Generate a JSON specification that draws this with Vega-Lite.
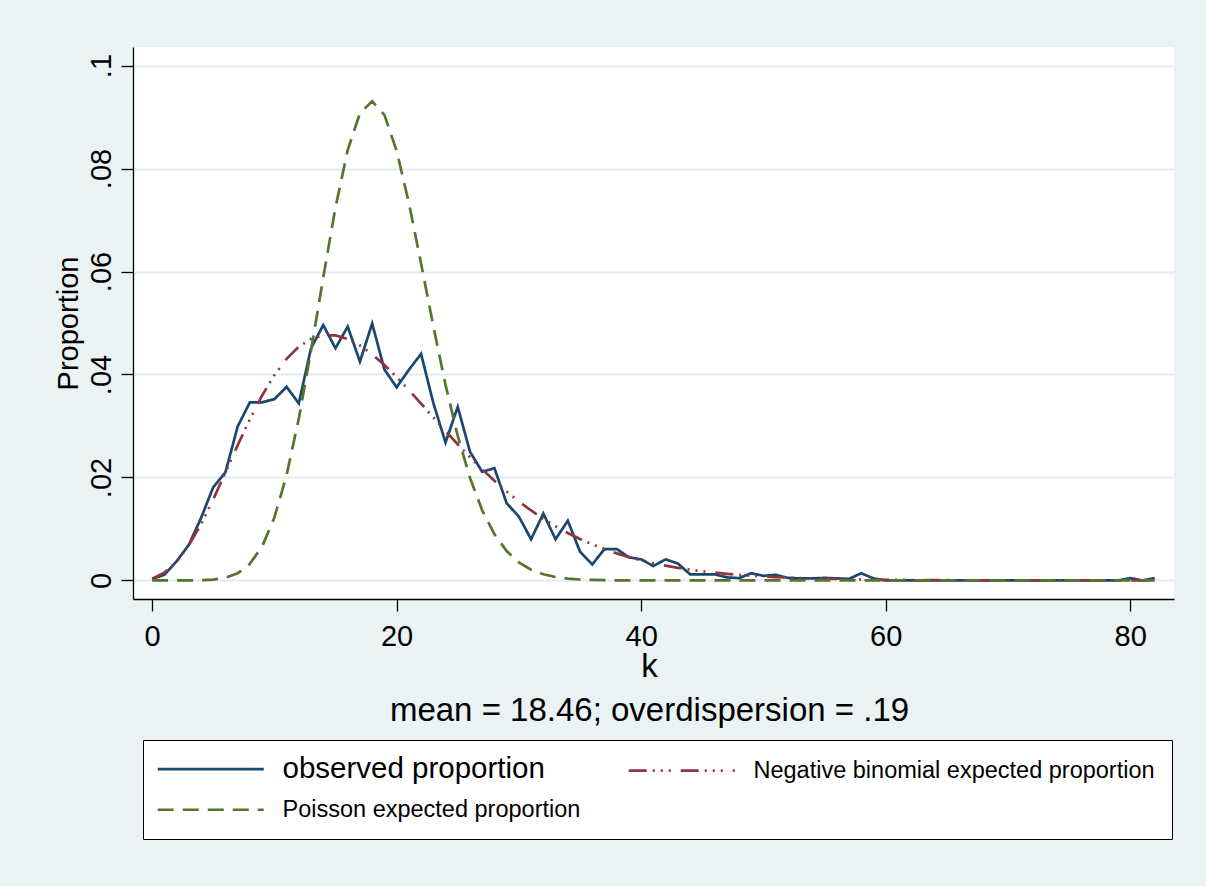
{
  "$schema": "https://vega.github.io/schema/vega-lite/v6.json",
  "width": 1041,
  "height": 552,
  "autosize": {"type": "none"},
  "padding": {"left": 133, "top": 47, "right": 32, "bottom": 287},
  "background": "#EAF2F3",
  "config": {
    "font": "Liberation Sans",
    "view": {"fill": "white", "stroke": null},
    "axis": {
      "domainColor": "black", "tickColor": "black", "labelColor": "black", "titleColor": "black",
      "titleFontWeight": "normal", "domainWidth": 1.3, "tickWidth": 1.3, "tickSize": 12,
      "labelFont": "Liberation Sans", "titleFont": "Liberation Sans"
    }
  },
  "data": {"values": [
    {"k":0,"obs":0.0003,"nb":0.00036,"pois":0},
    {"k":1,"obs":0.0011,"nb":0.00148,"pois":0},
    {"k":2,"obs":0.0037,"nb":0.00361,"pois":0.000002},
    {"k":3,"obs":0.0069,"nb":0.0068,"pois":0.00001},
    {"k":4,"obs":0.0121,"nb":0.01093,"pois":0.000047},
    {"k":5,"obs":0.0181,"nb":0.01576,"pois":0.00017},
    {"k":6,"obs":0.021,"nb":0.02097,"pois":0.00053},
    {"k":7,"obs":0.0299,"nb":0.02626,"pois":0.00139},
    {"k":8,"obs":0.0346,"nb":0.03132,"pois":0.00322},
    {"k":9,"obs":0.0346,"nb":0.03592,"pois":0.0066},
    {"k":10,"obs":0.0352,"nb":0.03987,"pois":0.01218},
    {"k":11,"obs":0.0376,"nb":0.04304,"pois":0.02043},
    {"k":12,"obs":0.0344,"nb":0.04539,"pois":0.03143},
    {"k":13,"obs":0.0451,"nb":0.04691,"pois":0.04463},
    {"k":14,"obs":0.0496,"nb":0.04761,"pois":0.05885},
    {"k":15,"obs":0.0451,"nb":0.04758,"pois":0.07243},
    {"k":16,"obs":0.0493,"nb":0.04689,"pois":0.08356},
    {"k":17,"obs":0.0425,"nb":0.04564,"pois":0.09074},
    {"k":18,"obs":0.0499,"nb":0.04392,"pois":0.09306},
    {"k":19,"obs":0.041,"nb":0.04185,"pois":0.09042},
    {"k":20,"obs":0.0375,"nb":0.0395,"pois":0.08345},
    {"k":21,"obs":0.0409,"nb":0.03698,"pois":0.07336},
    {"k":22,"obs":0.044,"nb":0.03435,"pois":0.06156},
    {"k":23,"obs":0.0345,"nb":0.03168,"pois":0.04941},
    {"k":24,"obs":0.0268,"nb":0.02903,"pois":0.038},
    {"k":25,"obs":0.0337,"nb":0.02645,"pois":0.02806},
    {"k":26,"obs":0.025,"nb":0.02395,"pois":0.01992},
    {"k":27,"obs":0.0211,"nb":0.02158,"pois":0.01362},
    {"k":28,"obs":0.0218,"nb":0.01935,"pois":0.00898},
    {"k":29,"obs":0.015,"nb":0.01727,"pois":0.00572},
    {"k":30,"obs":0.0124,"nb":0.01535,"pois":0.00352},
    {"k":31,"obs":0.008,"nb":0.01359,"pois":0.00209},
    {"k":32,"obs":0.013,"nb":0.01198,"pois":0.00121},
    {"k":33,"obs":0.008,"nb":0.01053,"pois":0.00068},
    {"k":34,"obs":0.0116,"nb":0.00922,"pois":0.00037},
    {"k":35,"obs":0.0056,"nb":0.00805,"pois":0.00019},
    {"k":36,"obs":0.0031,"nb":0.007,"pois":0.0001},
    {"k":37,"obs":0.0061,"nb":0.00608,"pois":0.00005},
    {"k":38,"obs":0.0061,"nb":0.00526,"pois":0.00002},
    {"k":39,"obs":0.0045,"nb":0.00454,"pois":0.00001},
    {"k":40,"obs":0.0041,"nb":0.00391,"pois":0.00001},
    {"k":41,"obs":0.0028,"nb":0.00336,"pois":0},
    {"k":42,"obs":0.0041,"nb":0.00288,"pois":0},
    {"k":43,"obs":0.0033,"nb":0.00246,"pois":0},
    {"k":44,"obs":0.0012,"nb":0.0021,"pois":0},
    {"k":45,"obs":0.0012,"nb":0.00179,"pois":0},
    {"k":46,"obs":0.0012,"nb":0.00152,"pois":0},
    {"k":47,"obs":0.0006,"nb":0.00129,"pois":0},
    {"k":48,"obs":0.00045,"nb":0.00109,"pois":0},
    {"k":49,"obs":0.0014,"nb":0.00093,"pois":0},
    {"k":50,"obs":0.0009,"nb":0.00078,"pois":0},
    {"k":51,"obs":0.0011,"nb":0.00066,"pois":0},
    {"k":52,"obs":0.0005,"nb":0.00056,"pois":0},
    {"k":53,"obs":0.0004,"nb":0.00047,"pois":0},
    {"k":54,"obs":0.0004,"nb":0.00039,"pois":0},
    {"k":55,"obs":0.0005,"nb":0.00033,"pois":0},
    {"k":56,"obs":0.0004,"nb":0.00028,"pois":0},
    {"k":57,"obs":0.0003,"nb":0.00023,"pois":0},
    {"k":58,"obs":0.0014,"nb":0.00019,"pois":0},
    {"k":59,"obs":0.0004,"nb":0.00016,"pois":0},
    {"k":60,"obs":0,"nb":0.00013,"pois":0},
    {"k":61,"obs":0,"nb":0.00011,"pois":0},
    {"k":62,"obs":0,"nb":0.00009,"pois":0},
    {"k":63,"obs":0,"nb":0.00008,"pois":0},
    {"k":64,"obs":0,"nb":0.00006,"pois":0},
    {"k":65,"obs":0,"nb":0.00005,"pois":0},
    {"k":66,"obs":0,"nb":0.00004,"pois":0},
    {"k":67,"obs":0,"nb":0.00004,"pois":0},
    {"k":68,"obs":0,"nb":0.00003,"pois":0},
    {"k":69,"obs":0,"nb":0.00002,"pois":0},
    {"k":70,"obs":0,"nb":0.00002,"pois":0},
    {"k":71,"obs":0,"nb":0.00002,"pois":0},
    {"k":72,"obs":0,"nb":0.00001,"pois":0},
    {"k":73,"obs":0,"nb":0.00001,"pois":0},
    {"k":74,"obs":0,"nb":0.00001,"pois":0},
    {"k":75,"obs":0,"nb":0.00001,"pois":0},
    {"k":76,"obs":0,"nb":0.00001,"pois":0},
    {"k":77,"obs":0,"nb":0.00001,"pois":0},
    {"k":78,"obs":0,"nb":0,"pois":0},
    {"k":79,"obs":0,"nb":0,"pois":0},
    {"k":80,"obs":0.00045,"nb":0,"pois":0},
    {"k":81,"obs":0,"nb":0,"pois":0},
    {"k":82,"obs":0.00045,"nb":0,"pois":0}
  ]},
  "transform": [{"fold": ["obs", "nb", "pois"], "as": ["s", "p"]}],
  "mark": {"type": "line", "strokeWidth": 2.7, "strokeCap": "butt"},
  "encoding": {
    "x": {
      "field": "k", "type": "quantitative",
      "scale": {"domain": [-1.56, 83.58], "nice": false, "zero": false},
      "axis": {
        "values": [0, 20, 40, 60, 80], "grid": false,
        "labelFontSize": 29, "labelBaseline": "alphabetic", "labelPadding": 34,
        "labelFlush": false, "labelOverlap": false,
        "title": ["k", "mean = 18.46; overdispersion = .19"],
        "titleFontSize": 33, "titleLineHeight": 44,
        "titleX": 516, "titleY": 77, "titleBaseline": "alphabetic", "titleAlign": "center"
      }
    },
    "y": {
      "field": "p", "type": "quantitative",
      "scale": {"domain": [-0.0036, 0.1036], "nice": false, "zero": false},
      "axis": {
        "values": [0, 0.02, 0.04, 0.06, 0.08, 0.1], "grid": true,
        "gridColor": "#E3ECEF", "gridWidth": 2,
        "labelExpr": "datum.value == 0 ? '0' : replace(format(datum.value, '.2~f'), '0.', '.')",
        "labelFontSize": 29, "labelAngle": 270, "labelAlign": "center", "labelBaseline": "alphabetic",
        "labelPadding": 11, "labelFlush": false, "labelOverlap": false,
        "title": "Proportion", "titleFontSize": 29, "titleAngle": 270,
        "titleX": -56, "titleY": 276, "titleBaseline": "alphabetic", "titleAlign": "center"
      }
    },
    "color": {
      "field": "s", "type": "nominal",
      "scale": {"domain": ["obs", "pois", "nb"], "range": ["#1A476F", "#55752F", "#90353B"]},
      "legend": {
        "title": null, "orient": "none", "legendX": 10, "legendY": 693,
        "columns": 2, "direction": "vertical",
        "symbolType": "M-14,0H92", "symbolSize": 4, "symbolStrokeWidth": 2.7,
        "labelExpr": "datum.value == 'obs' ? 'observed proportion' : datum.value == 'nb' ? 'Negative binomial expected proportion' : 'Poisson expected proportion'",
        "labelFontSize": 23.5, "labelOffset": 99, "labelLimit": 700, "labelColor": "black", "labelFont": "Liberation Sans",
        "columnPadding": 42, "rowPadding": 13, "padding": 17,
        "strokeColor": "black", "fillColor": "white",
        "encode": {"labels": {"update": {"fontSize": {"signal": "datum.value === 'obs' ? 29.5 : 23.5"}}}}
      }
    },
    "strokeDash": {
      "field": "s", "type": "nominal",
      "scale": {"domain": ["obs", "pois", "nb"], "range": [[1, 0], [16, 9], [18, 6, 2, 6, 2, 6, 2, 10]]},
      "legend": {
        "title": null, "orient": "none", "legendX": 10, "legendY": 693,
        "columns": 2, "direction": "vertical",
        "symbolType": "M-14,0H92", "symbolSize": 4, "symbolStrokeWidth": 2.7,
        "labelExpr": "datum.value == 'obs' ? 'observed proportion' : datum.value == 'nb' ? 'Negative binomial expected proportion' : 'Poisson expected proportion'",
        "labelFontSize": 23.5, "labelOffset": 99, "labelLimit": 700, "labelColor": "black", "labelFont": "Liberation Sans",
        "columnPadding": 42, "rowPadding": 13, "padding": 17,
        "strokeColor": "black", "fillColor": "white",
        "encode": {"labels": {"update": {"fontSize": {"signal": "datum.value === 'obs' ? 29.5 : 23.5"}}}}
      }
    }
  }
}
